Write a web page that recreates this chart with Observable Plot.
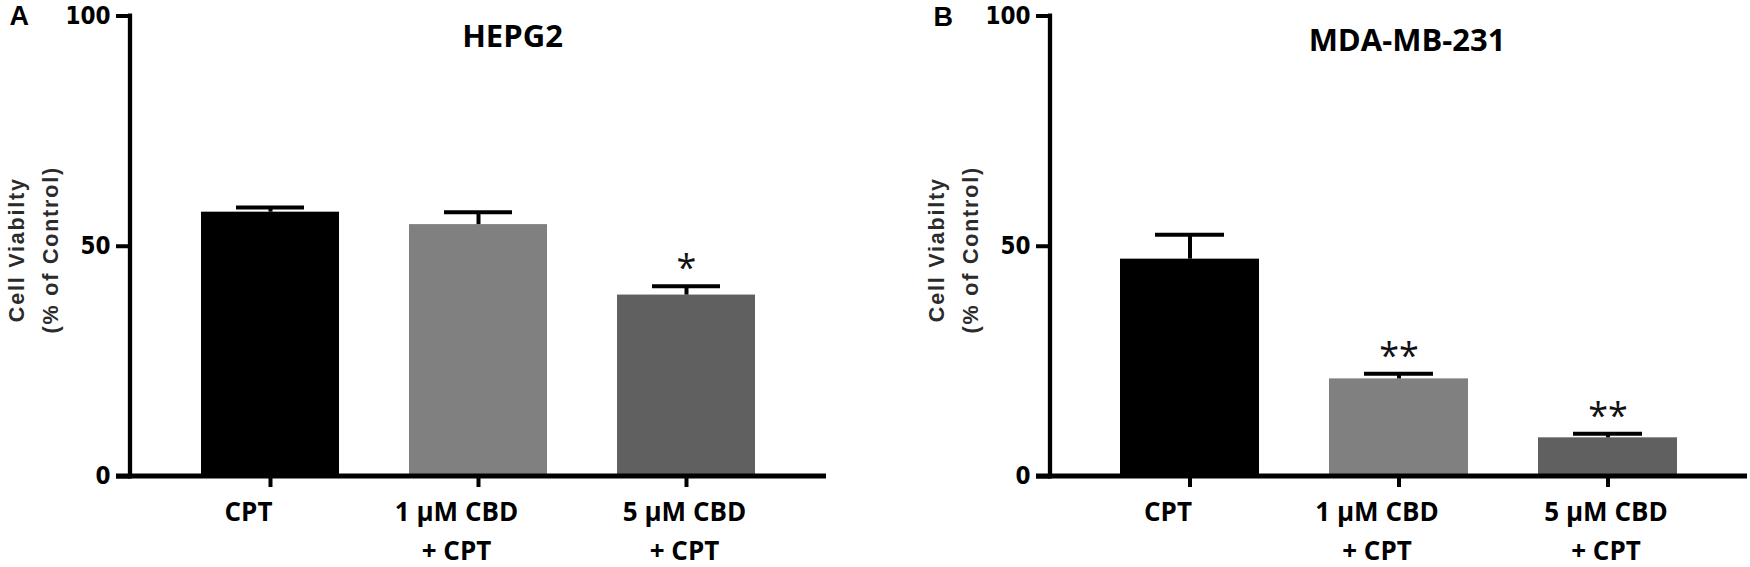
<!DOCTYPE html>
<html><head><meta charset="utf-8">
<script src="https://cdn.jsdelivr.net/npm/d3@7"></script>
<script src="https://cdn.jsdelivr.net/npm/@observablehq/plot@0.6"></script>
<style>
body{margin:0;background:#fff}
#wrap{position:relative;width:1750px;height:567px;overflow:hidden;background:#fff}
#wrap svg{position:absolute;top:0}
</style></head><body><div id="wrap"></div>
<script>
// ---- data ----
const categories = ["CPT", "1 µM CBD + CPT", "5 µM CBD + CPT"];
const tickLabels = [["CPT"], ["1 µM CBD", "+ CPT"], ["5 µM CBD", "+ CPT"]];
const barColors = ["#000000", "#808080", "#606060"];
const yTicks = [0, 50, 100];
const panelLetters = ["A", "B"];
const panelTitles = ["HEPG2", "MDA-MB-231"];
const hepg2Mean = [57.4, 54.7, 39.4];
const hepg2Err = [1.0, 2.7, 1.9];
const hepg2Sig = ["", "", "*"];
const mdaMean = [47.2, 21.2, 8.4];
const mdaErr = [5.3, 1.1, 0.9];
const mdaSig = ["", "**", "**"];
const yLabelLines = ["Cell Viabilty", "(% of Control)"];

// ---- layout ----
const W = 875, H = 567, MT = 15.5, MB = 91;
const layout = [
  {left: 0, marginLeft: 130, marginRight: 49, titleDx: 34, titleBase: 46, letterX: 9, letterBase: 24},
  {left: 875, marginLeft: 175, marginRight: 3, titleDx: 8, titleBase: 50, letterX: 58, letterBase: 25}
];
const labelNudge = [-22, -22, -2];
const sans = "'Liberation Sans', Arial, sans-serif";
const narrow = "'Liberation Sans Narrow', 'DejaVu Sans Condensed', 'Liberation Sans', Arial, sans-serif";
const calib = "'Open Sans', 'Noto Sans', sans-serif";

const series = [
  {mean: hepg2Mean, err: hepg2Err, sig: hepg2Sig},
  {mean: mdaMean, err: mdaErr, sig: mdaSig}
];

function makePanel(k) {
  const L = layout[k], S = series[k];
  const rows = categories.map((c, i) => ({cat: c, mean: S.mean[i], top: S.mean[i] + S.err[i], sig: S.sig[i], color: barColors[i]}));
  const axisLines = (index, scales, values, dims) => {
    const g = d3.create("svg:g");
    const x0 = dims.marginLeft, x1 = dims.width - dims.marginRight;
    const yb = dims.height - dims.marginBottom, yt = dims.marginTop;
    g.append("line").attr("x1", x0).attr("x2", x0).attr("y1", yt - 2).attr("y2", yb + 2.5)
      .attr("stroke", "black").attr("stroke-width", 4.3);
    g.append("line").attr("x1", x0 - 14).attr("x2", x1).attr("y1", yb).attr("y2", yb)
      .attr("stroke", "black").attr("stroke-width", 5);
    return g.node();
  };
  const yLab = (t, dx) => Plot.text([t], {text: d => d, frameAnchor: "left", rotate: -90, dx, dy: 3.5, lineAnchor: "bottom", textAnchor: "middle", fontSize: 21.5, fontWeight: 700, fontFamily: sans, fill: "#2b2b2b"});
  const marks = [
    Plot.barY(rows, {x: "cat", y: "mean", fill: "color"}),
    Plot.ruleX(rows, {x: "cat", y1: "mean", y2: "top", stroke: "black", strokeWidth: 4}),
    Plot.tickY(rows, {x: "cat", y: "top", stroke: "black", strokeWidth: 4, insetLeft: 35, insetRight: 35}),
    Plot.axisY({ticks: yTicks, tickSize: 14, tickPadding: 6, strokeWidth: 4, fontSize: 24, fontWeight: "bold", fontFamily: narrow, label: null, tickFormat: d => String(d)}),
    Plot.axisX({tickSize: 11, strokeWidth: 4, tickFormat: () => "", label: null}),
    axisLines,
    Plot.text(rows.filter(r => r.sig), {x: "cat", y: "top", text: "sig", lineAnchor: "bottom", dy: -6, fontSize: 36, fontFamily: calib, fill: "#111"}),
    Plot.text([panelTitles[k]], {text: d => d, frameAnchor: "top", dx: L.titleDx, dy: L.titleBase - MT, lineAnchor: "bottom", fontSize: 31, fontWeight: 700, fontFamily: calib, fill: "black"}),
    Plot.text([panelLetters[k]], {text: d => d, frameAnchor: "top-left", dx: L.letterX - L.marginLeft, dy: L.letterBase - MT, textAnchor: "start", lineAnchor: "bottom", fontSize: 27, fontWeight: 700, fontFamily: sans, fill: "black"}),
    yLab(yLabelLines[0], -106.5),
    yLab(yLabelLines[1], -72.5)
  ];
  categories.forEach((c, i) => {
    marks.push(Plot.text([c], {x: d => d, text: () => tickLabels[i].join("\n"), frameAnchor: "bottom", lineAnchor: "top", dy: 17, dx: labelNudge[i], fontSize: 26, fontWeight: 700, fontFamily: calib, lineHeight: 1.5, fill: "black"}));
  });
  const svg = Plot.plot({
    width: W, height: H,
    marginLeft: L.marginLeft, marginRight: L.marginRight, marginTop: MT, marginBottom: MB,
    x: {domain: categories, paddingInner: 0.335, paddingOuter: 0.333, axis: null},
    y: {domain: [0, 100], axis: null},
    color: {type: "identity"},
    style: {background: "transparent", overflow: "visible"},
    marks
  });
  svg.querySelectorAll("text").forEach(t => {
    if (yLabelLines.includes(t.textContent)) t.setAttribute("letter-spacing", "1.8");
  });
  svg.style.left = L.left + "px";
  return svg;
}
const wrap = document.getElementById("wrap");
wrap.appendChild(makePanel(0));
wrap.appendChild(makePanel(1));
</script></body></html>
